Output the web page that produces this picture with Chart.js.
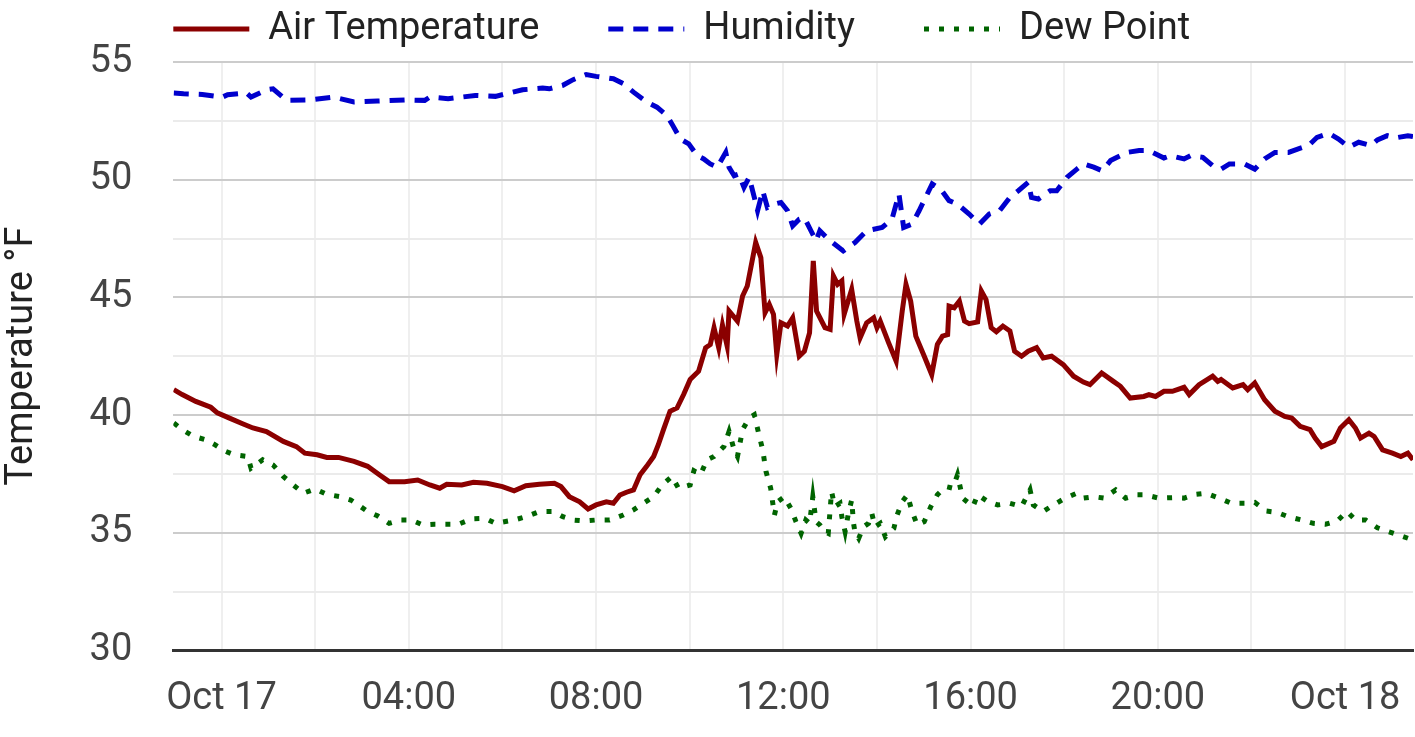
<!DOCTYPE html>
<html>
<head>
<meta charset="utf-8">
<title>Temperature</title>
<script src="https://cdn.jsdelivr.net/npm/chart.js@4.4.1/dist/chart.umd.min.js"></script>
<style>
  html, body { margin: 0; padding: 0; background: #fff; }
  #wrap { width: 1415px; height: 737px; }
</style>
</head>
<body>
<div id="wrap"><canvas id="weatherChart"></canvas></div>
<script>
// Hours counted from Oct 17 00:00
const airTime = [-1.02, -0.84, -0.55, -0.23, -0.09, 0.17, 0.45, 0.67, 0.96, 1.32, 1.60, 1.78, 2.04, 2.25, 2.50, 2.83, 3.12, 3.37, 3.58, 3.91, 4.19, 4.45, 4.66, 4.81, 5.13, 5.38, 5.67, 6.00, 6.25, 6.50, 6.79, 7.11, 7.25, 7.43, 7.65, 7.83, 8.00, 8.22, 8.37, 8.51, 8.65, 8.80, 8.94, 9.08, 9.23, 9.33, 9.44, 9.58, 9.73, 9.87, 10.01, 10.19, 10.34, 10.44, 10.52, 10.62, 10.70, 10.80, 10.84, 11.02, 11.13, 11.23, 11.41, 11.52, 11.61, 11.70, 11.79, 11.86, 11.95, 12.09, 12.20, 12.34, 12.45, 12.56, 12.64, 12.71, 12.89, 13.00, 13.07, 13.16, 13.25, 13.30, 13.46, 13.57, 13.64, 13.78, 13.93, 14.00, 14.07, 14.25, 14.41, 14.54, 14.62, 14.72, 14.83, 15.01, 15.17, 15.29, 15.40, 15.51, 15.54, 15.65, 15.76, 15.87, 15.97, 16.15, 16.23, 16.33, 16.44, 16.55, 16.69, 16.84, 16.94, 17.09, 17.23, 17.41, 17.55, 17.73, 17.98, 18.20, 18.41, 18.55, 18.80, 19.05, 19.20, 19.41, 19.70, 19.81, 19.95, 20.13, 20.31, 20.56, 20.67, 20.88, 21.17, 21.28, 21.35, 21.60, 21.82, 21.92, 22.07, 22.28, 22.50, 22.71, 22.86, 23.04, 23.25, 23.36, 23.50, 23.76, 23.90, 24.08, 24.22, 24.33, 24.51, 24.62, 24.80, 25.01, 25.19, 25.34, 25.45];
const airTemp = [41.08, 40.87, 40.58, 40.33, 40.09, 39.87, 39.63, 39.45, 39.30, 38.88, 38.66, 38.38, 38.31, 38.20, 38.20, 38.03, 37.82, 37.46, 37.17, 37.17, 37.24, 37.03, 36.89, 37.06, 37.03, 37.14, 37.10, 36.96, 36.78, 37.00, 37.06, 37.10, 36.96, 36.53, 36.31, 36.01, 36.18, 36.31, 36.25, 36.60, 36.72, 36.82, 37.46, 37.82, 38.24, 38.74, 39.38, 40.16, 40.30, 40.87, 41.51, 41.86, 42.86, 43.00, 43.71, 42.86, 43.82, 42.93, 44.42, 43.99, 45.06, 45.48, 47.33, 46.69, 44.35, 44.70, 44.28, 42.57, 43.92, 43.78, 44.13, 42.50, 42.71, 43.49, 46.55, 44.42, 43.71, 43.64, 45.91, 45.55, 45.70, 44.28, 45.34, 43.99, 43.28, 43.92, 44.13, 43.71, 43.99, 43.07, 42.29, 44.42, 45.55, 44.84, 43.35, 42.50, 41.72, 43.00, 43.35, 43.42, 44.63, 44.56, 44.84, 43.99, 43.88, 43.96, 45.27, 44.91, 43.71, 43.54, 43.78, 43.57, 42.71, 42.50, 42.71, 42.86, 42.43, 42.50, 42.14, 41.65, 41.40, 41.29, 41.79, 41.43, 41.22, 40.72, 40.79, 40.87, 40.79, 41.01, 41.01, 41.18, 40.87, 41.29, 41.65, 41.43, 41.51, 41.15, 41.29, 41.08, 41.36, 40.65, 40.16, 39.94, 39.87, 39.52, 39.38, 39.02, 38.66, 38.88, 39.45, 39.80, 39.45, 39.02, 39.23, 39.09, 38.52, 38.38, 38.24, 38.38, 38.10];

const humTime = [-1.02, -0.81, -0.41, 0.02, 0.13, 0.53, 0.63, 0.96, 1.10, 1.39, 1.89, 2.40, 2.83, 3.33, 3.91, 4.34, 4.45, 4.84, 5.42, 5.85, 6.43, 6.86, 7.00, 7.29, 7.51, 7.79, 8.00, 8.37, 8.58, 8.80, 9.08, 9.30, 9.51, 9.62, 9.80, 9.98, 10.16, 10.30, 10.44, 10.59, 10.77, 10.84, 10.95, 11.05, 11.16, 11.27, 11.38, 11.45, 11.56, 11.66, 11.81, 11.95, 12.09, 12.20, 12.34, 12.45, 12.59, 12.70, 12.78, 12.96, 13.28, 13.53, 13.78, 14.11, 14.32, 14.47, 14.57, 14.75, 14.90, 15.04, 15.18, 15.36, 15.54, 15.72, 15.97, 16.19, 16.40, 16.62, 16.84, 17.02, 17.23, 17.30, 17.45, 17.70, 17.84, 18.06, 18.27, 18.41, 18.63, 18.81, 18.99, 19.13, 19.35, 19.60, 19.81, 20.13, 20.27, 20.56, 20.70, 20.96, 21.17, 21.35, 21.53, 21.85, 22.07, 22.28, 22.50, 22.79, 23.00, 23.22, 23.40, 23.65, 23.86, 24.08, 24.29, 24.55, 24.69, 24.90, 25.08, 25.34, 25.45];
const humidity = [53.68, 53.65, 53.62, 53.51, 53.61, 53.69, 53.51, 53.82, 53.86, 53.37, 53.39, 53.51, 53.30, 53.34, 53.39, 53.37, 53.51, 53.44, 53.58, 53.54, 53.82, 53.89, 53.86, 54.01, 54.25, 54.47, 54.39, 54.29, 54.08, 53.72, 53.30, 53.08, 52.73, 52.37, 51.73, 51.52, 51.02, 50.88, 50.67, 50.53, 51.16, 50.53, 50.17, 50.24, 49.67, 50.10, 49.25, 48.68, 49.53, 48.82, 48.96, 49.03, 48.68, 48.04, 48.32, 48.39, 47.83, 47.40, 47.83, 47.47, 46.97, 47.33, 47.83, 47.97, 48.32, 49.39, 47.97, 48.11, 48.68, 49.25, 49.82, 49.60, 49.11, 48.96, 48.54, 48.11, 48.54, 48.68, 49.25, 49.53, 49.89, 49.25, 49.18, 49.53, 49.53, 50.10, 50.45, 50.67, 50.53, 50.38, 50.81, 50.95, 51.16, 51.24, 51.24, 50.92, 51.02, 50.88, 51.02, 50.95, 50.60, 50.45, 50.67, 50.67, 50.45, 50.88, 51.16, 51.16, 51.31, 51.45, 51.80, 51.97, 51.73, 51.38, 51.59, 51.45, 51.69, 51.87, 51.78, 51.87, 51.83];

const dewTime = [-1.02, -0.84, -0.59, -0.34, -0.16, 0.06, 0.27, 0.56, 0.63, 0.88, 1.10, 1.32, 1.53, 1.75, 2.00, 2.25, 2.54, 2.76, 2.90, 3.12, 3.33, 3.58, 3.83, 4.05, 4.30, 4.55, 4.77, 5.06, 5.35, 5.63, 5.85, 6.25, 6.50, 6.79, 7.08, 7.29, 7.51, 7.76, 8.00, 8.29, 8.58, 8.80, 9.01, 9.23, 9.41, 9.62, 9.76, 10.01, 10.09, 10.23, 10.37, 10.52, 10.66, 10.73, 10.84, 10.95, 11.02, 11.13, 11.27, 11.38, 11.48, 11.56, 11.63, 11.73, 11.81, 11.88, 12.02, 12.16, 12.27, 12.38, 12.48, 12.56, 12.63, 12.70, 12.78, 12.89, 12.96, 13.03, 13.10, 13.21, 13.25, 13.32, 13.39, 13.46, 13.50, 13.53, 13.61, 13.71, 13.82, 13.89, 13.96, 14.07, 14.18, 14.36, 14.43, 14.54, 14.65, 14.75, 14.86, 15.01, 15.15, 15.29, 15.47, 15.62, 15.72, 15.83, 16.05, 16.15, 16.37, 16.58, 16.84, 17.09, 17.27, 17.34, 17.55, 17.77, 18.02, 18.27, 18.41, 18.63, 18.85, 19.10, 19.31, 19.56, 19.73, 20.02, 20.31, 20.56, 20.81, 21.03, 21.31, 21.57, 21.85, 22.07, 22.32, 22.53, 22.79, 23.07, 23.32, 23.58, 23.83, 24.04, 24.22, 24.44, 24.69, 24.94, 25.19, 25.45];
const dewPoint = [39.66, 39.38, 39.09, 38.95, 38.76, 38.48, 38.31, 38.24, 37.74, 38.10, 37.88, 37.39, 37.03, 36.68, 36.86, 36.63, 36.53, 36.39, 36.21, 35.90, 35.72, 35.40, 35.54, 35.54, 35.33, 35.36, 35.36, 35.36, 35.59, 35.61, 35.40, 35.54, 35.68, 35.90, 35.90, 35.68, 35.54, 35.50, 35.54, 35.54, 35.75, 35.97, 36.25, 36.53, 37.03, 37.39, 36.89, 37.03, 37.63, 37.46, 38.10, 38.24, 38.52, 38.66, 39.30, 38.52, 38.24, 39.38, 39.87, 40.01, 39.16, 38.52, 37.60, 36.89, 35.75, 36.32, 36.53, 36.04, 35.47, 34.97, 35.54, 35.40, 36.53, 35.47, 35.33, 35.04, 34.97, 36.75, 36.11, 36.25, 35.68, 35.04, 35.82, 36.39, 35.40, 35.04, 34.76, 35.25, 35.40, 35.82, 35.25, 35.40, 34.83, 35.18, 35.75, 36.32, 36.61, 35.90, 35.33, 35.47, 36.11, 36.61, 36.96, 36.89, 37.46, 36.47, 36.11, 36.61, 36.32, 36.18, 36.25, 36.11, 36.82, 36.18, 35.90, 36.18, 36.47, 36.68, 36.47, 36.53, 36.47, 36.82, 36.47, 36.61, 36.61, 36.47, 36.49, 36.47, 36.63, 36.68, 36.47, 36.25, 36.25, 36.29, 35.92, 35.87, 35.68, 35.54, 35.40, 35.36, 35.50, 35.90, 35.54, 35.54, 35.21, 35.04, 34.87, 34.69];

const xMin = -1.03;
const xMax = 25.45;

function toPoints(times, values) {
    return times.map((t, i) => ({x: t, y: values[i]}));
}

function hourLabel(value) {
    if (value % 4 !== 0) return '';
    if (value === 0) return 'Oct 17';
    if (value === 24) return 'Oct 18';
    return String(value).padStart(2, '0') + ':00';
}

// legend lines keep the dataset dash and width
function legendLabels(chart) {
    const items = Chart.defaults.plugins.legend.labels.generateLabels(chart);
    items.forEach((item, i) => {
        const ds = chart.data.datasets[i];
        item.lineDash = ds.borderDash || [];
        item.lineWidth = ds.borderWidth;
        item.strokeStyle = ds.borderColor;
    });
    return items;
}

// legend sits over the plot's left edge, with wide gaps between items
const legendShift = {
    id: 'legendShift',
    afterLayout(chart) {
        const lg = chart.legend;
        const pad = lg.options.labels.padding;
        lg.left = chart.chartArea.left - pad;
        lg.top = 10 - pad;
    }
};

Chart.defaults.font.family = 'Roboto';
Chart.defaults.font.size = 38;
Chart.defaults.color = '#444';

let ctx = document.getElementById('weatherChart').getContext('2d');
let weatherChart = new Chart(ctx, {
    type: 'line',
    data: {
        datasets: [
            {
                label: 'Air Temperature',
                data: toPoints(airTime, airTemp),
                borderColor: '#8b0000',
                backgroundColor: '#8b0000',
                borderWidth: 5,
                pointRadius: 0,
                tension: 0
            },
            {
                label: 'Humidity',
                data: toPoints(humTime, humidity),
                borderColor: '#0000cd',
                backgroundColor: '#0000cd',
                borderWidth: 5,
                borderDash: [15, 10],
                pointRadius: 0,
                tension: 0
            },
            {
                label: 'Dew Point',
                data: toPoints(dewTime, dewPoint),
                borderColor: '#006400',
                backgroundColor: '#006400',
                borderWidth: 5,
                borderDash: [5, 10],
                pointRadius: 0,
                tension: 0
            }
        ]
    },
    options: {
        responsive: true,
        maintainAspectRatio: false,
        animation: false,
        layout: {
            padding: {top: 0, right: 2, bottom: 11, left: 0}
        },
        plugins: {
            legend: {
                position: 'top',
                align: 'start',
                maxHeight: 62,
                labels: {
                    usePointStyle: true,
                    pointStyle: 'line',
                    pointStyleWidth: 76,
                    padding: 69,
                    color: '#222',
                    font: {size: 38},
                    generateLabels: legendLabels
                }
            },
            tooltip: {enabled: false}
        },
        scales: {
            x: {
                type: 'linear',
                min: xMin,
                max: xMax,
                grid: {
                    color: '#efefef',
                    lineWidth: 2,
                    drawTicks: true,
                    tickLength: 22,
                    tickColor: 'rgba(0,0,0,0)'
                },
                border: {
                    display: true,
                    color: '#333',
                    width: 3
                },
                ticks: {
                    stepSize: 2,
                    includeBounds: false,
                    autoSkip: false,
                    maxRotation: 0,
                    padding: 4,
                    color: '#444',
                    callback: hourLabel
                }
            },
            y: {
                min: 30,
                max: 55,
                grid: {
                    color: (c) => (c.tick && c.tick.value % 5 === 0) ? '#cccccc' : '#ebebeb',
                    lineWidth: 2,
                    drawTicks: true,
                    tickLength: 38,
                    tickColor: 'rgba(0,0,0,0)'
                },
                border: {display: false},
                ticks: {
                    stepSize: 2.5,
                    padding: 3,
                    color: '#444',
                    callback: (v) => v % 5 === 0 ? v : ''
                },
                title: {
                    display: true,
                    text: 'Temperature °F',
                    color: '#222',
                    font: {size: 38},
                    padding: {top: 0, bottom: 41}
                }
            }
        }
    },
    plugins: [legendShift]
});
</script>
</body>
</html>
